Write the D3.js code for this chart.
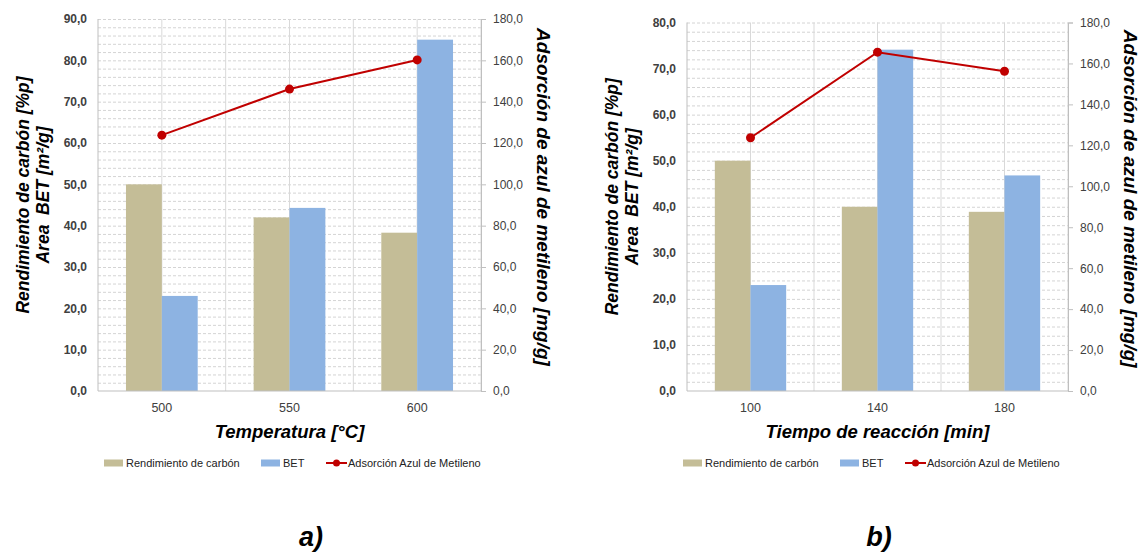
<!DOCTYPE html>
<html>
<head>
<meta charset="utf-8">
<script src="https://cdn.jsdelivr.net/npm/d3@7"></script>
<style>
  body { margin: 0; background: #fff; }
  text { font-family: "Liberation Sans", Arial, sans-serif; }
</style>
</head>
<body>
<div id="chart"></div>
<script>
// Data
const tempCategories = ["500", "550", "600"];
const tempRendimiento = [50.0, 42.0, 38.3];
const tempBET = [23.0, 44.3, 85.0];
const tempAdsorcion = [123.8, 146.1, 160.2];

const timeCategories = ["100", "140", "180"];
const timeRendimiento = [50.0, 40.0, 38.9];
const timeBET = [23.0, 74.1, 46.8];
const timeAdsorcion = [123.7, 165.5, 156.2];

const seriesNames = ["Rendimiento de carbón", "BET", "Adsorción Azul de Metileno"];
const colors = { rend: "#c4bd97", bet: "#8db3e2", ads: "#c00000" };
const fmt = d => d.toFixed(1).replace(".", ",");

const svg = d3.select("#chart").append("svg")
    .attr("width", 1140)
    .attr("height", 554);

function drawChart(o) {
    const g = svg.append("g")
        .attr("transform", `translate(${o.left}, ${o.top})`);
    const height = 391 - o.top;

    // Scales
    const x0 = d3.scaleBand()
        .domain(o.categories)
        .range([0, o.width])
        .padding(0);
    const x1 = d3.scaleBand()
        .domain(["rend", "bet"])
        .range([0, x0.bandwidth()])
        .paddingInner(0)
        .paddingOuter(0.78);
    const yLeft = d3.scaleLinear().domain([0, o.leftMax]).range([height, 0]);
    const yRight = d3.scaleLinear().domain([0, 180]).range([height, 0]);

    // Horizontal dashed gridlines every 2 units
    g.append("g")
        .call(d3.axisLeft(yLeft)
            .tickValues(d3.range(2, o.leftMax + 0.1, 2))
            .tickSize(-o.width)
            .tickFormat(""))
        .call(s => s.select(".domain").remove())
        .call(s => s.selectAll("line")
            .attr("stroke", "#d4d4d4")
            .attr("stroke-dasharray", "3,2"));

    // Vertical gridlines at category centres and boundaries
    const vLines = [];
    o.categories.forEach(c => {
        vLines.push(x0(c) + x0.bandwidth() / 2);
        vLines.push(x0(c) + x0.bandwidth());
    });
    g.selectAll(".vgrid")
        .data(vLines)
        .enter()
        .append("line")
        .attr("x1", d => d).attr("x2", d => d)
        .attr("y1", 0).attr("y2", height)
        .attr("stroke", "#d9d9d9")
        .attr("stroke-width", 1);

    // Bars
    const groups = g.selectAll(".grp")
        .data(o.categories)
        .enter()
        .append("g")
        .attr("transform", d => `translate(${x0(d)}, 0)`);
    groups.append("rect")
        .attr("x", x1("rend"))
        .attr("y", (d, i) => yLeft(o.rendimiento[i]))
        .attr("width", x1.bandwidth())
        .attr("height", (d, i) => height - yLeft(o.rendimiento[i]))
        .attr("fill", colors.rend);
    groups.append("rect")
        .attr("x", x1("bet"))
        .attr("y", (d, i) => yLeft(o.bet[i]))
        .attr("width", x1.bandwidth())
        .attr("height", (d, i) => height - yLeft(o.bet[i]))
        .attr("fill", colors.bet);

    // Axes lines
    const axisColor = "#bfbfbf";
    g.append("line").attr("x1", 0).attr("x2", 0).attr("y1", 0).attr("y2", height)
        .attr("stroke", axisColor);
    g.append("line").attr("x1", 0).attr("x2", o.width).attr("y1", height).attr("y2", height)
        .attr("stroke", axisColor);

    // Left axis labels
    g.append("g")
        .call(d3.axisLeft(yLeft).tickValues(d3.range(0, o.leftMax + 0.1, 10)).tickSize(0).tickPadding(11).tickFormat(fmt))
        .call(s => s.select(".domain").remove())
        .call(s => s.selectAll("text")
            .attr("font-family", "Liberation Sans, Arial, sans-serif")
            .attr("font-size", 12)
            .attr("font-weight", "bold")
            .attr("fill", "#404040"));

    // Right axis
    g.append("g")
        .attr("transform", `translate(${o.width}, 0)`)
        .call(d3.axisRight(yRight).tickValues(d3.range(0, 181, 20)).tickSize(5).tickPadding(7).tickFormat(fmt))
        .call(s => s.select(".domain").attr("stroke", axisColor))
        .call(s => s.selectAll("line").attr("stroke", axisColor))
        .call(s => s.selectAll("text")
            .attr("font-family", "Liberation Sans, Arial, sans-serif")
            .attr("font-size", 12)
            .attr("fill", "#404040"));

    // Category axis labels
    g.append("g")
        .attr("transform", `translate(0, ${height})`)
        .call(d3.axisBottom(x0).tickSize(0).tickPadding(12))
        .call(s => s.select(".domain").remove())
        .call(s => s.selectAll("text")
            .attr("font-family", "Liberation Sans, Arial, sans-serif")
            .attr("font-size", 12.5)
            .attr("fill", "#404040"));

    // Adsorción line
    const line = d3.line()
        .x((d, i) => x0(o.categories[i]) + x0.bandwidth() / 2)
        .y(d => yRight(d));
    g.append("path")
        .datum(o.adsorcion)
        .attr("fill", "none")
        .attr("stroke", colors.ads)
        .attr("stroke-width", 2)
        .attr("d", line);
    g.selectAll(".dot")
        .data(o.adsorcion)
        .enter()
        .append("circle")
        .attr("cx", (d, i) => x0(o.categories[i]) + x0.bandwidth() / 2)
        .attr("cy", d => yRight(d))
        .attr("r", 4.5)
        .attr("fill", colors.ads);

    // Axis titles
    const leftTitle = g.append("text")
        .attr("transform", `translate(-69, ${height / 2 - 10}) rotate(-90)`)
        .attr("text-anchor", "middle")
        .attr("font-size", 17.5)
        .attr("font-weight", "bold")
        .attr("font-style", "italic");
    leftTitle.append("tspan").attr("x", 0).attr("dy", 0).text("Rendimiento de carbón [%p]");
    leftTitle.append("tspan").attr("x", 0).attr("dy", 19.5).text("Area\u00A0\u00A0BET [m²/g]");

    g.append("text")
        .attr("transform", `translate(${o.width + 56}, ${height / 2 - 8}) rotate(90)`)
        .attr("text-anchor", "middle")
        .attr("font-size", 19)
        .attr("font-weight", "bold")
        .attr("font-style", "italic")
        .text("Adsorción de azul de metileno [mg/g]");

    g.append("text")
        .attr("x", o.width / 2)
        .attr("y", 438 - o.top)
        .attr("text-anchor", "middle")
        .attr("font-size", 18.5)
        .attr("font-weight", "bold")
        .attr("font-style", "italic")
        .text(o.xTitle);

    // Legend
    const lg = svg.append("g").attr("transform", `translate(${o.legendX}, 463)`);
    const items = [
        { name: seriesNames[0], dx: 0, type: "rect", color: colors.rend },
        { name: seriesNames[1], dx: 157, type: "rect", color: colors.bet },
        { name: seriesNames[2], dx: 222, type: "line", color: colors.ads }
    ];
    items.forEach(it => {
        if (it.type === "rect") {
            lg.append("rect").attr("x", it.dx).attr("y", -3.5).attr("width", 19).attr("height", 7).attr("fill", it.color);
        } else {
            lg.append("line").attr("x1", it.dx).attr("x2", it.dx + 21).attr("y1", 0).attr("y2", 0)
                .attr("stroke", it.color).attr("stroke-width", 2);
            lg.append("circle").attr("cx", it.dx + 10.5).attr("cy", 0).attr("r", 3.5).attr("fill", it.color);
        }
        lg.append("text")
            .attr("x", it.dx + 22)
            .attr("y", 4)
            .attr("font-size", 11)
            .attr("fill", "#222")
            .text(it.name);
    });

    // Panel label
    svg.append("text")
        .attr("x", o.labelX)
        .attr("y", 546)
        .attr("text-anchor", "middle")
        .attr("font-size", 27)
        .attr("font-weight", "bold")
        .attr("font-style", "italic")
        .text(o.label);
}

drawChart({
    left: 98, top: 19, width: 383, leftMax: 90,
    categories: tempCategories, rendimiento: tempRendimiento, bet: tempBET, adsorcion: tempAdsorcion,
    xTitle: "Temperatura [°C]", label: "a)", labelX: 311, legendX: 104
});

drawChart({
    left: 687, top: 22.5, width: 381, leftMax: 80,
    categories: timeCategories, rendimiento: timeRendimiento, bet: timeBET, adsorcion: timeAdsorcion,
    xTitle: "Tiempo de reacción [min]", label: "b)", labelX: 879, legendX: 683
});
</script>
</body>
</html>
